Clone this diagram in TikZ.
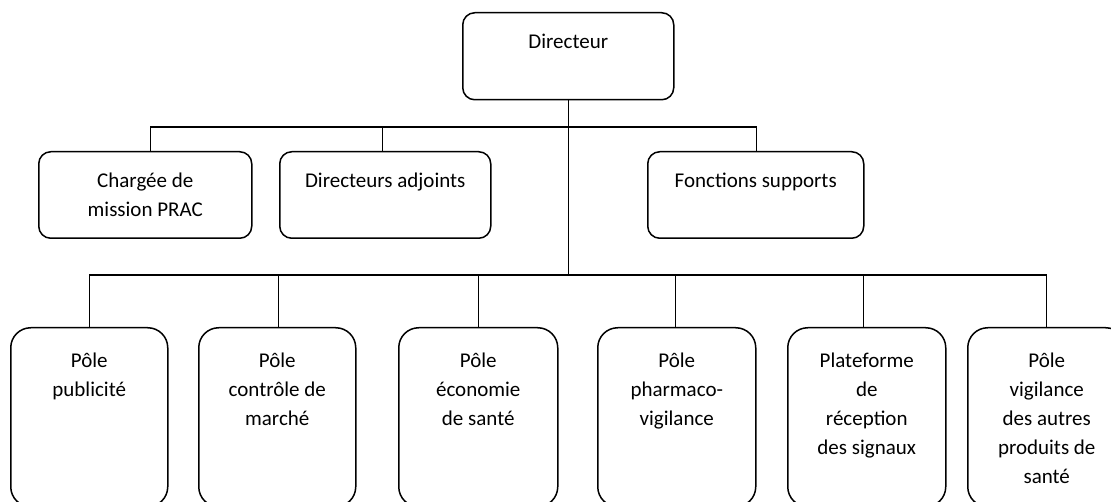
\documentclass[tikz,border=0pt]{standalone}
\usepackage{fontspec}
\setmainfont{Carlito}
% text block of a fixed-size unit: width, height, top padding, text
\newcommand\unittext[4]{\parbox[c][#2pt][t]{#1pt}{\vspace*{#3pt}\centering\fontsize{21}{29}\selectfont\strut #4\par}}
\tikzset{
  unit/.style={draw=black, line width=1.5pt, rounded corners=#1, inner sep=0pt, anchor=north west},
  link/.style={draw=black, line width=1.4pt},
}
\begin{document}
\begin{tikzpicture}[x=1pt,y=-1pt]
\useasboundingbox (0,0) rectangle (1111,502);
\clip (0,0) rectangle (1111,502);
\fill[white] (0,0) rectangle (1111,502);

% levels of the two horizontal bars
\coordinate (upper) at (0,127);
\coordinate (lower) at (0,275);

% head
\node[unit=12pt] (dir) at (462,12) {\unittext{211}{87}{15.7}{Directeur}};

% staff row
\node[unit=12pt] (charge) at (38,151) {\unittext{213}{86.5}{15.7}{Chargée de\\mission PRAC}};
\node[unit=12pt] (adj) at (279,151) {\unittext{211}{86.5}{15.7}{Directeurs adjoints}};
\node[unit=12pt] (supp) at (647,151) {\unittext{216}{86.5}{15.7}{Fonctions supports}};

% poles row
\node[unit=20pt] (pub) at (10,327) {\unittext{157}{179}{19.7}{Pôle\\publicité}};
\node[unit=20pt] (ctrl) at (198,327) {\unittext{157}{179}{19.7}{Pôle\\contrôle de\\marché}};
\node[unit=20pt] (eco) at (398,327) {\unittext{159}{179}{19.7}{Pôle\\économie\\de santé}};
\node[unit=20pt] (pv) at (597,327) {\unittext{158}{179}{19.7}{Pôle\\pharmaco-\\vigilance}};
\node[unit=20pt] (plat) at (787,327) {\unittext{158}{179}{19.7}{Plateforme\\de\\réception\\des signaux}};
\node[unit=20pt] (vig) at (967,327) {\unittext{158}{179}{19.7}{Pôle\\vigilance\\des autres\\produits de\\santé}};

% trunk
\draw[link] (dir.south) -- (dir.south |- lower);

% upper bar and its drops
\draw[link] ([xshift=5.5pt]charge.north) -- ([xshift=5.5pt]charge.north |- upper)
  -- ([xshift=1pt]supp.north |- upper) -- ([xshift=1pt]supp.north);
\draw[link] ([xshift=-2.5pt]adj.north) -- ([xshift=-2.5pt]adj.north |- upper);

% lower bar and its drops
\draw[link] (pub.north) -- (pub.north |- lower) -- (vig.north |- lower) -- (vig.north);
\draw[link] ([xshift=1.5pt]ctrl.north) -- ([xshift=1.5pt]ctrl.north |- lower);
\draw[link] (eco.north) -- (eco.north |- lower);
\draw[link] ([xshift=-1pt]pv.north) -- ([xshift=-1pt]pv.north |- lower);
\draw[link] ([xshift=-3pt]plat.north) -- ([xshift=-3pt]plat.north |- lower);
\end{tikzpicture}
\end{document}
